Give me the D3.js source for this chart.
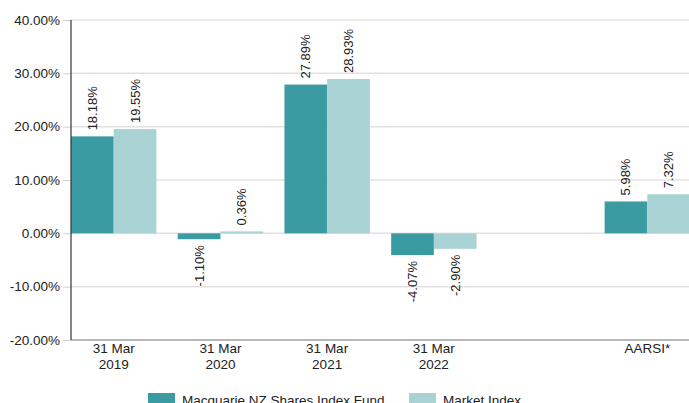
<!DOCTYPE html>
<html>
<head>
<meta charset="utf-8">
<script src="https://cdn.jsdelivr.net/npm/d3@7"></script>
<style>
  body { margin: 0; background: #fff; }
  svg { display: block; font-family: "Liberation Sans", Arial, sans-serif; }
</style>
</head>
<body>
<div id="root"></div>
<script>
const categories = [["31 Mar", "2019"], ["31 Mar", "2020"], ["31 Mar", "2021"], ["31 Mar", "2022"], [""], ["AARSI*"]];
const fundValues = [18.18, -1.10, 27.89, -4.07, null, 5.98];
const marketValues = [19.55, 0.36, 28.93, -2.90, null, 7.32];
const seriesNames = ["Macquarie NZ Shares Index Fund", "Market Index"];
const yTicks = [-20, -10, 0, 10, 20, 30, 40];

const width = 689;
const height = 403;
const colors = ["#3b9ba3", "#a9d2d4"];

const svg = d3.select("#root").append("svg")
  .attr("width", width)
  .attr("height", height);

const x = d3.scaleBand()
  .domain(d3.range(categories.length))
  .range([71, 690])
  .paddingInner(0.2)
  .paddingOuter(0);

const x1 = d3.scaleBand()
  .domain([0, 1])
  .range([0, x.bandwidth()]);

const y = d3.scaleLinear()
  .domain([-20, 40])
  .range([340, 20]);

// grid lines
svg.append("g")
  .selectAll("line")
  .data(yTicks)
  .join("line")
  .attr("x1", 71)
  .attr("x2", width)
  .attr("y1", d => y(d))
  .attr("y2", d => y(d))
  .attr("stroke", "#e2e2e2")
  .attr("stroke-width", 1.5);

// y axis
const yAxis = d3.axisLeft(y)
  .tickValues(yTicks)
  .tickSize(8)
  .tickPadding(3)
  .tickFormat(d => d.toFixed(2) + "%");

const yg = svg.append("g")
  .attr("transform", "translate(71,0)")
  .call(yAxis);
yg.select(".domain").remove();
yg.selectAll(".tick line").attr("stroke", "#c8d4dc");
yg.selectAll(".tick text")
  .attr("fill", "#222")
  .style("font-size", "13.5px")
  .style("font-family", "Liberation Sans, Arial, sans-serif");

// bars
const data = categories.map((c, i) => [fundValues[i], marketValues[i]]);

const groups = svg.append("g")
  .selectAll("g")
  .data(data)
  .join("g")
  .attr("transform", (d, i) => `translate(${x(i)},0)`);

groups.selectAll("rect")
  .data(d => d.map((v, s) => ({ v, s })).filter(e => e.v !== null))
  .join("rect")
  .attr("x", e => x1(e.s))
  .attr("width", x1.bandwidth())
  .attr("y", e => y(Math.max(0, e.v)))
  .attr("height", e => Math.abs(y(e.v) - y(0)))
  .attr("fill", e => colors[e.s]);

groups.selectAll("text")
  .data(d => d.map((v, s) => ({ v, s })).filter(e => e.v !== null))
  .join("text")
  .attr("transform", e => {
    const cx = x1(e.s) + x1.bandwidth() / 2 + 4.5;
    const cy = e.v >= 0 ? y(e.v) - 6 : y(e.v) + 6;
    return `translate(${cx},${cy}) rotate(-90)`;
  })
  .attr("text-anchor", e => e.v >= 0 ? "start" : "end")
  .attr("fill", "#222")
  .style("font-size", "13px")
  .text(e => e.v.toFixed(2) + "%");

// axis lines
svg.append("line")
  .attr("x1", 71).attr("x2", width)
  .attr("y1", y(-20)).attr("y2", y(-20))
  .attr("stroke", "#888").attr("stroke-width", 1);

svg.append("line")
  .attr("x1", 71).attr("x2", 71)
  .attr("y1", y(40)).attr("y2", y(-20))
  .attr("stroke", "#333").attr("stroke-width", 1.2);

// category labels
const cat = svg.append("g")
  .selectAll("text")
  .data(categories)
  .join("text")
  .attr("x", (d, i) => x(i) + x.bandwidth() / 2)
  .attr("y", 353)
  .attr("text-anchor", "middle")
  .attr("fill", "#222")
  .style("font-size", "13.5px");

cat.selectAll("tspan")
  .data(d => d)
  .join("tspan")
  .attr("x", function () { return d3.select(this.parentNode).attr("x"); })
  .attr("dy", (d, i) => i === 0 ? 0 : 15.5)
  .text(d => d);

// legend
const legendX = [148, 409];
const legend = svg.append("g")
  .selectAll("g")
  .data(seriesNames)
  .join("g")
  .attr("transform", (d, i) => `translate(${legendX[i]},393)`);

legend.append("rect")
  .attr("width", 27)
  .attr("height", 12)
  .attr("fill", (d, i) => colors[i]);

legend.append("text")
  .attr("x", 34)
  .attr("y", 12)
  .attr("fill", "#222")
  .style("font-size", "13.5px")
  .text(d => d);
</script>
</body>
</html>
